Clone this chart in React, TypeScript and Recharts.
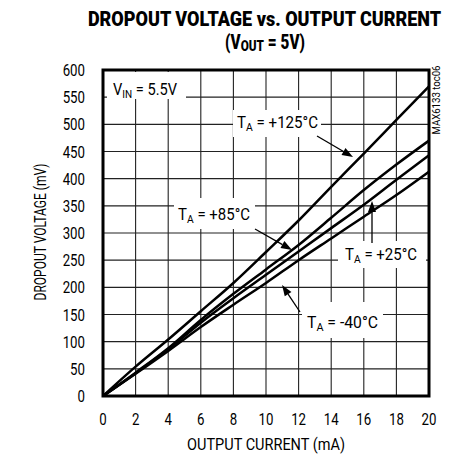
import React, { useLayoutEffect, useRef, useState } from "react";
import { LineChart, Line, XAxis, YAxis, CartesianGrid, ReferenceArea } from "recharts";

// output current (mA) and dropout voltage (mV) per temperature
const current = [0, 2, 4, 6, 8, 10, 12, 14, 16, 18, 20];
const ta125 = [0, 54, 104, 156, 208, 265, 323, 385, 446, 508, 570];
const ta85 = [0, 43, 88, 140, 188, 233, 278, 328, 379, 426, 470];
const ta25 = [0, 42, 86, 135, 180, 223, 266, 309, 352, 398, 443];
const taM40 = [0, 41, 83, 127, 168, 208, 250, 290, 330, 370, 413];

const xTicks = [0, 2, 4, 6, 8, 10, 12, 14, 16, 18, 20];
const yTicks = [0, 50, 100, 150, 200, 250, 300, 350, 400, 450, 500, 550, 600];

const data = current.map((c, i) => ({
  current: c,
  t125: ta125[i],
  t85: ta85[i],
  t25: ta25[i],
  tm40: taM40[i],
}));

const FONT = "Roboto, 'DejaVu Sans Condensed', sans-serif";
const NARROW = 0.78;

// text squeezed horizontally to a target width
const FitText = ({
  x, y, width, anchor = "start", rotate = 0, size = 16, weight = "normal", children,
}: {
  x: number; y: number; width: number; anchor?: string; rotate?: number;
  size?: number; weight?: string; children: React.ReactNode;
}) => {
  const ref = useRef<SVGTextElement>(null);
  const [sx, setSx] = useState(NARROW);
  useLayoutEffect(() => {
    if (ref.current) {
      const len = ref.current.getComputedTextLength();
      if (len > 0) setSx(width / len);
    }
  }, [width]);
  return (
    <text
      ref={ref}
      transform={`translate(${x},${y}) rotate(${rotate}) scale(${sx},1)`}
      textAnchor={anchor as any}
      fontFamily={FONT}
      fontSize={size}
      fontWeight={weight}
      fill="#000"
    >
      {children}
    </text>
  );
};

const XTick = (props: any) => {
  const { x, y, payload } = props;
  return (
    <text transform={`translate(${x},${y}) scale(${NARROW},1)`} textAnchor="middle" dy="0.71em"
      fontFamily={FONT} fontSize={17} fill="#000">
      {payload.value}
    </text>
  );
};

const YTick = (props: any) => {
  const { x, y, payload } = props;
  return (
    <text transform={`translate(${x},${y}) scale(${NARROW},1)`} textAnchor="end" dy="0.36em"
      fontFamily={FONT} fontSize={17} fill="#000">
      {payload.value}
    </text>
  );
};

const Arrow = ({ x1, y1, x2, y2 }: { x1: number; y1: number; x2: number; y2: number }) => {
  const dx = x2 - x1;
  const dy = y2 - y1;
  const len = Math.sqrt(dx * dx + dy * dy);
  const ux = dx / len;
  const uy = dy / len;
  const hl = 11;
  const hw = 4;
  const bx = x2 - ux * hl;
  const by = y2 - uy * hl;
  const pts = `${x2},${y2} ${bx - uy * hw},${by + ux * hw} ${bx + uy * hw},${by - ux * hw}`;
  return (
    <g>
      <line x1={x1} y1={y1} x2={bx} y2={by} stroke="#000" strokeWidth={1.3} />
      <polygon points={pts} fill="#000" />
    </g>
  );
};

const TLabel = ({ x, y, width, rest }: { x: number; y: number; width: number; rest: string }) => (
  <FitText x={x} y={y} width={width} size={16}>
    <tspan>T</tspan>
    <tspan fontSize={11} dy={3}>A</tspan>
    <tspan dy={-3}>{rest}</tspan>
  </FitText>
);

const App: React.FC = () => {
  return (
    <div style={{ position: "absolute", left: 0, top: 0, width: 449, height: 455, background: "#fff" }}>
      <LineChart
        width={449}
        height={455}
        data={data}
        margin={{ top: 70, right: 20, bottom: 29, left: 43 }}
      >
        <CartesianGrid stroke="#222" strokeWidth={1.1} />
        <XAxis
          dataKey="current"
          type="number"
          domain={[0, 20]}
          ticks={xTicks}
          height={30}
          tickLine={false}
          axisLine={false}
          tickSize={0}
          tickMargin={17}
          tick={<XTick />}
        />
        <YAxis
          type="number"
          domain={[0, 600]}
          ticks={yTicks}
          width={60}
          tickLine={false}
          axisLine={false}
          tickSize={0}
          tickMargin={18}
          tick={<YTick />}
        />
        <Line type="monotone" dataKey="t125" stroke="#000" strokeWidth={2.5} dot={false} isAnimationActive={false} />
        <Line type="monotone" dataKey="t85" stroke="#000" strokeWidth={2.5} dot={false} isAnimationActive={false} />
        <Line type="monotone" dataKey="t25" stroke="#000" strokeWidth={2.5} dot={false} isAnimationActive={false} />
        <Line type="monotone" dataKey="tm40" stroke="#000" strokeWidth={2.5} dot={false} isAnimationActive={false} />
        <ReferenceArea x1={0} x2={20} y1={0} y2={600} stroke="#000" strokeWidth={3} fill="none" fillOpacity={0} />
      </LineChart>

      {/* titles, axis names and callouts */}
      <svg width={449} height={455} style={{ position: "absolute", left: 0, top: 0, pointerEvents: "none" }}>
        <FitText x={264.5} y={26} width={353} anchor="middle" size={19.5} weight="900">
          DROPOUT VOLTAGE vs. OUTPUT CURRENT
        </FitText>
        <FitText x={265} y={49} width={80} anchor="middle" size={19.5} weight="900">
          <tspan>(V</tspan>
          <tspan fontSize={15} dy={2}>OUT</tspan>
          <tspan dy={-2}> = 5V)</tspan>
        </FitText>

        <FitText x={266} y={450} width={158} anchor="middle" size={17}>
          OUTPUT CURRENT (mA)
        </FitText>
        <FitText x={46} y={232} width={137} anchor="middle" size={17} rotate={-90}>
          DROPOUT VOLTAGE (mV)
        </FitText>
        <FitText x={440} y={100} width={69} anchor="middle" size={10} rotate={-90}>
          MAX6133 toc06
        </FitText>

        {/* V_IN */}
        <rect x={107} y={72} width={79} height={27} fill="#fff" />
        <FitText x={113} y={95} width={64} size={16}>
          <tspan>V</tspan>
          <tspan fontSize={11} dy={3}>IN</tspan>
          <tspan dy={-3}> = 5.5V</tspan>
        </FitText>

        {/* +125 */}
        <rect x={233} y={110} width={88} height={27} fill="#fff" />
        <TLabel x={237} y={128} width={81} rest=" = +125°C" />
        <Arrow x1={317} y1={136} x2={353} y2={157} />

        {/* +85 */}
        <rect x={174} y={198} width={81} height={31} fill="#fff" />
        <TLabel x={178} y={220} width={72} rest=" = +85°C" />
        <Arrow x1={255} y1={229} x2={292} y2={250} />

        {/* +25 */}
        <rect x={338} y={241} width={88} height={27} fill="#fff" />
        <TLabel x={345} y={260} width={72} rest=" = +25°C" />
        <Arrow x1={372} y1={243} x2={372} y2={201} />

        {/* -40 */}
        <rect x={302} y={302} width={81} height={36} fill="#fff" />
        <TLabel x={307} y={328} width={71} rest=" = -40°C" />
        <Arrow x1={300} y1={312} x2={282} y2={285} />
      </svg>
    </div>
  );
};

export default App;
